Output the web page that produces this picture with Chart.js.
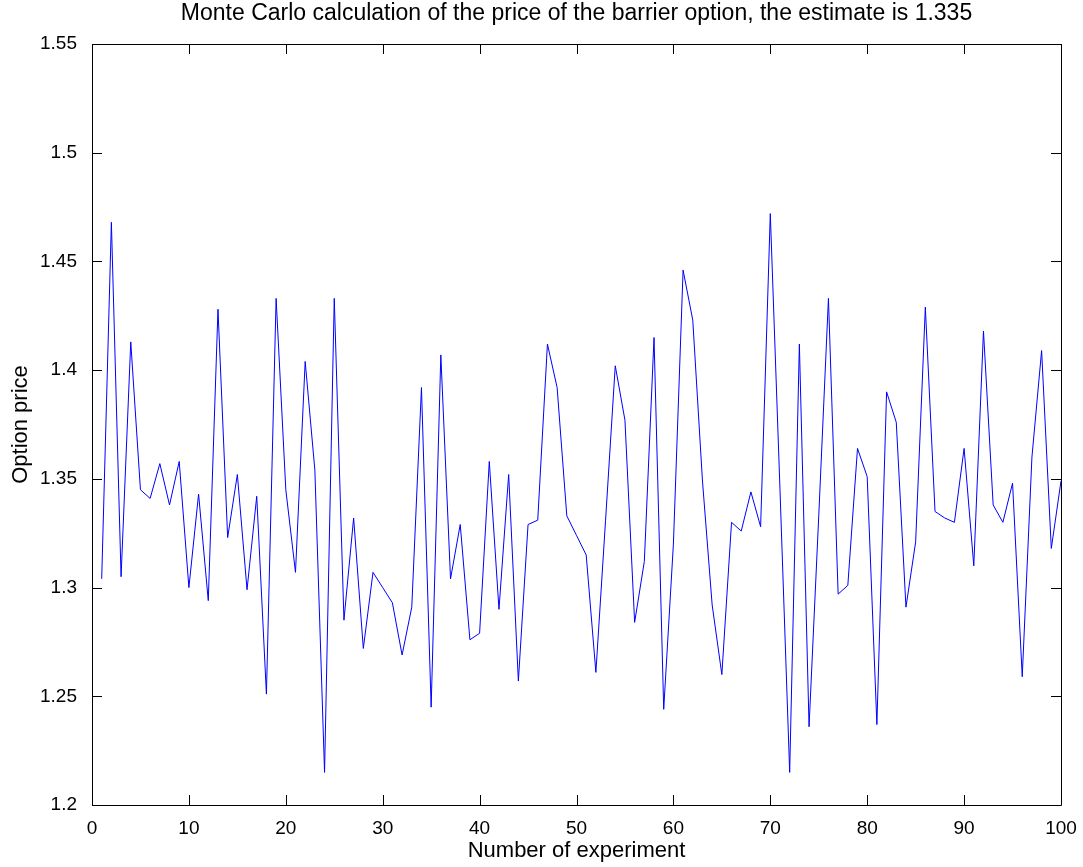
<!DOCTYPE html>
<html>
<head>
<meta charset="utf-8">
<title>Monte Carlo barrier option</title>
<script src="https://cdn.jsdelivr.net/npm/chart.js@4.4.1/dist/chart.umd.min.js"></script>
<style>
  body { margin: 0; background: #fff; }
  canvas { display: block; }
</style>
</head>
<body>
<canvas id="mcChart" width="1083" height="867"></canvas>
<script>
// Data
const experiments = [
  1, 2, 3, 4, 5, 6, 7, 8, 9, 10, 11, 12, 13, 14, 15, 16, 17, 18, 19, 20,
  21, 22, 23, 24, 25, 26, 27, 28, 29, 30, 31, 32, 33, 34, 35, 36, 37, 38, 39, 40,
  41, 42, 43, 44, 45, 46, 47, 48, 49, 50, 51, 52, 53, 54, 55, 56, 57, 58, 59, 60,
  61, 62, 63, 64, 65, 66, 67, 68, 69, 70, 71, 72, 73, 74, 75, 76, 77, 78, 79, 80,
  81, 82, 83, 84, 85, 86, 87, 88, 89, 90, 91, 92, 93, 94, 95, 96, 97, 98, 99, 100
];
const optionPrices = [
  1.304, 1.468, 1.305, 1.413, 1.345, 1.341, 1.357, 1.338, 1.358, 1.300,
  1.343, 1.294, 1.428, 1.323, 1.352, 1.299, 1.342, 1.251, 1.433, 1.345,
  1.307, 1.404, 1.354, 1.215, 1.433, 1.285, 1.332, 1.272, 1.307, 1.300,
  1.293, 1.269, 1.291, 1.392, 1.245, 1.407, 1.304, 1.329, 1.276, 1.279,
  1.358, 1.290, 1.352, 1.257, 1.329, 1.331, 1.412, 1.392, 1.333, 1.324,
  1.315, 1.261, 1.331, 1.402, 1.377, 1.284, 1.312, 1.415, 1.244, 1.320,
  1.446, 1.423, 1.349, 1.292, 1.260, 1.330, 1.326, 1.344, 1.328, 1.472,
  1.345, 1.215, 1.412, 1.236, 1.333, 1.433, 1.297, 1.301, 1.364, 1.351,
  1.237, 1.390, 1.376, 1.291, 1.321, 1.429, 1.335, 1.332, 1.330, 1.364,
  1.310, 1.418, 1.338, 1.330, 1.348, 1.259, 1.360, 1.409, 1.318, 1.349
];
const xTicks = [0, 10, 20, 30, 40, 50, 60, 70, 80, 90, 100];
const yTicks = [1.2, 1.25, 1.3, 1.35, 1.4, 1.45, 1.5, 1.55];

const FONT = '"Liberation Sans", Arial, Helvetica, sans-serif';

// MATLAB-like box with inward ticks on all four sides
const boxAxes = {
  id: 'boxAxes',
  afterDraw(chart) {
    const { ctx, chartArea: a, scales } = chart;
    const len = 10;
    ctx.save();
    ctx.strokeStyle = '#000';
    ctx.lineWidth = 1;
    ctx.beginPath();
    ctx.rect(Math.round(a.left) + 0.5, Math.round(a.top) + 0.5,
      Math.round(a.right - a.left), Math.round(a.bottom - a.top));
    xTicks.forEach(v => {
      const px = Math.round(scales.x.getPixelForValue(v)) + 0.5;
      ctx.moveTo(px, a.bottom);
      ctx.lineTo(px, a.bottom - len);
      ctx.moveTo(px, a.top);
      ctx.lineTo(px, a.top + len);
    });
    yTicks.forEach(v => {
      const py = Math.round(scales.y.getPixelForValue(v)) + 0.5;
      ctx.moveTo(a.left, py);
      ctx.lineTo(a.left + len, py);
      ctx.moveTo(a.right, py);
      ctx.lineTo(a.right - len, py);
    });
    ctx.stroke();
    ctx.restore();
  }
};

const whiteBg = {
  id: 'whiteBg',
  beforeDraw(chart) {
    const ctx = chart.ctx;
    ctx.save();
    ctx.fillStyle = '#fff';
    ctx.fillRect(0, 0, chart.width, chart.height);
    ctx.restore();
  }
};

new Chart(document.getElementById('mcChart'), {
  type: 'line',
  data: {
    datasets: [{
      data: experiments.map((x, i) => ({ x: x, y: optionPrices[i] })),
      borderColor: '#0000ff',
      borderWidth: 1,
      pointRadius: 0,
      tension: 0,
      fill: false
    }]
  },
  options: {
    responsive: false,
    animation: false,
    layout: { padding: { left: 0, right: 22, top: 0, bottom: 0 } },
    plugins: {
      legend: { display: false },
      tooltip: { enabled: false },
      title: {
        display: true,
        fullSize: false,
        text: 'Monte Carlo calculation of the price of the barrier option, the estimate is 1.335',
        color: '#000',
        font: { family: FONT, size: 23, weight: 'normal' },
        padding: { top: 0, bottom: 16.4 }
      }
    },
    scales: {
      x: {
        type: 'linear',
        min: 0,
        max: 100,
        afterBuildTicks: scale => { scale.ticks = xTicks.map(v => ({ value: v })); },
        afterFit: scale => { scale.height = 62; },
        grid: { display: false },
        border: { display: false },
        ticks: {
          color: '#000',
          padding: 4,
          maxRotation: 0,
          font: { family: FONT, size: 19 }
        },
        title: {
          display: true,
          text: 'Number of experiment',
          color: '#000',
          font: { family: FONT, size: 22 },
          padding: { top: 0, bottom: 3 }
        }
      },
      y: {
        min: 1.2,
        max: 1.55,
        afterBuildTicks: scale => { scale.ticks = yTicks.map(v => ({ value: v })); },
        afterFit: scale => { scale.width = 92; },
        grid: { display: false },
        border: { display: false },
        ticks: {
          color: '#000',
          padding: 7,
          font: { family: FONT, size: 19 },
          callback: v => String(Number(v.toFixed(2)))
        },
        title: {
          display: true,
          text: 'Option price',
          color: '#000',
          font: { family: FONT, size: 22 },
          padding: { top: 8, bottom: 0 }
        }
      }
    }
  },
  plugins: [whiteBg, boxAxes]
});
</script>
</body>
</html>
